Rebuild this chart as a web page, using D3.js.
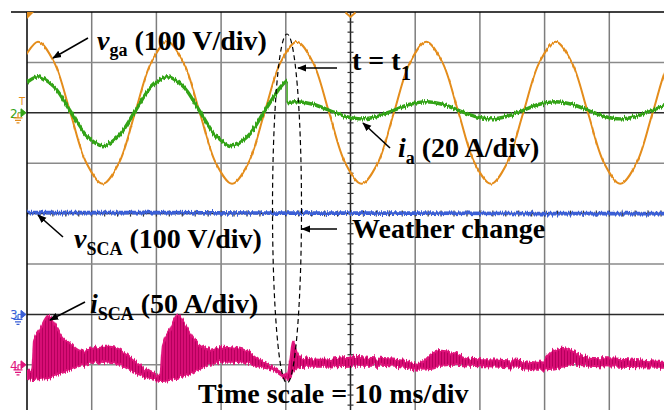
<!DOCTYPE html>
<html>
<head>
<meta charset="utf-8">
<script src="https://cdn.jsdelivr.net/npm/d3@7/dist/d3.min.js"></script>
<style>
  body { margin: 0; background: #fff; }
  svg { display: block; }
</style>
</head>
<body>
<svg id="scope" width="664" height="410"></svg>
<script>
// ---- acquisition record (time in ms, 10 ms/div, 10 divisions) ----
const sampleTimes = [-0.8, 1.7, 4.2, 6.7, 9.2, 11.7, 14.2, 16.7, 19.2, 21.7, 24.2, 26.7,
  29.2, 31.7, 34.2, 36.7, 39.2, 41.7, 44.2, 46.7, 49.2, 51.7, 54.2, 56.7, 59.2, 61.7,
  64.2, 66.7, 69.2, 71.7, 74.2, 76.7, 79.2, 81.7, 84.2, 86.7, 89.2, 91.7, 94.2, 96.7,
  99.2, 101.7];

// CH1 grid voltage v_ga (V)
const vgaVolts = [100, 141, 100, 0, -100, -141, -100, 0, 100, 141, 100, 0, -100, -141,
  -100, 0, 100, 141, 100, 0, -100, -141, -100, 0, 100, 141, 100, 0, -100, -141, -100,
  0, 100, 141, 100, 0, -100, -141, -100, 0, 100, 141];

// CH2 phase current i_a (A): before and after the weather change
const iaBefore = [10.3, 14.3, 10.3, 0.6, -9.1, -13.1, -9.1, 0.6, 10.3, 14.3, 10.3, 0.6,
  -9.1, -13.1, -9.1, 0.6, 10.3];                    // sampleTimes[0..16]
const iaAfter = [4.4, 3.4, 1.0, -1.4, -2.4, -1.4, 1.0, 3.4, 4.4, 3.4, 1.0, -1.4, -2.4,
  -1.4, 1.0, 3.4, 4.4, 3.4, 1.0, -1.4, -2.4, -1.4, 1.0, 3.4, 4.4]; // sampleTimes[17..41]
const changeTime = 40.2;
const iaAtChange = [12.8, 4.0];                    // just before / just after t1

// CH3 SCA voltage v_SCA (V)
const vscaTimes = [0, 20, 40, 60, 80, 100];
const vscaVolts = [202, 202, 201, 201, 200, 200];

// CH4 SCA current i_SCA (A): ripple band upper / lower envelope
const iscaTimes = [0.0, 0.8, 1.1, 2.0, 3.3, 4.3, 5.4, 6.7, 8.2, 9.7, 11.3, 12.8, 14.4,
  15.9, 17.5, 19.0, 20.6, 21.0, 22.1, 23.3, 24.4, 25.5, 26.7, 28.3, 30.1, 32.2, 34.2,
  36.0, 37.9, 39.4, 40.2, 40.7, 41.1, 41.7, 42.5, 45.3, 49.9, 54.6, 58.4, 60.7, 62.6,
  64.1, 66.2, 68.5, 73.1, 77.7, 79.3, 81.1, 82.7, 84.7, 87.0, 91.7, 98.5, 100];
const iscaUpper = [-6, -6, 25, 35, 49, 40, 28, 21, 14, 15, 18, 18, 15, 8, 0, -7, -10,
  20, 35, 50, 40, 29, 19, 15, 18, 17, 13, 5, -2, -8, -11, 5, 23, 13, 7, 5, 8, 6, 4, 1,
  11, 14, 11, 6, 5, 3, 2, 13, 17, 12, 7, 6, 3, 3];
const iscaLower = [-14, -15, -15, -14, -13, -11, -8, -5, -1, 1, 3, 2, 0, -5, -10, -14,
  -16, -16, -15, -13, -11, -8, -4, 0, 3, 3, 1, -2, -5, -11, -15, -13, -7, -3, -2, -2,
  -1, -1, -3, -5, -4, -1, 0, -1, -2, -4, -5, -4, -2, 0, -1, -2, -3, -3];

// channel settings: ground position (div from centre) and sensitivity
const channels = {
  vga:  { offset: 2,  perDiv: 100, color: "#e48c1a" },
  ia:   { offset: 2,  perDiv: 20,  color: "#33a315" },
  vsca: { offset: -2, perDiv: 100, color: "#3a5fd6" },
  isca: { offset: -3, perDiv: 50,  color: "#e0157c" }
};

const svg = d3.select("#scope");
const plotLeft = 27, plotTop = 12;
const x = d3.scaleLinear().domain([0, 100]).range([plotLeft, 674]);
const yDiv = d3.scaleLinear().domain([-4, 4]).range([415.2, plotTop]);
const yOf = ch => v => yDiv(ch.offset + v / ch.perDiv);

// ---- defs: clip, noise filters, ripple pattern, arrow head ----
const defs = svg.append("defs");
defs.append("clipPath").attr("id", "screen")
  .append("rect").attr("x", plotLeft).attr("y", plotTop)
  .attr("width", 664 - plotLeft).attr("height", 410 - plotTop);

function jitter(id, freq, scale, seed) {
  const f = defs.append("filter").attr("id", id)
    .attr("filterUnits", "userSpaceOnUse")
    .attr("x", 0).attr("y", 0).attr("width", 664).attr("height", 410);
  f.append("feTurbulence").attr("type", "fractalNoise")
    .attr("baseFrequency", freq).attr("numOctaves", 2).attr("seed", seed).attr("result", "n");
  f.append("feColorMatrix").attr("in", "n").attr("type", "matrix")
    .attr("values", "0 0 0 0 0.5  0 1 0 0 0  0 0 0 0 0  0 0 0 0 1").attr("result", "m");
  f.append("feDisplacementMap").attr("in", "SourceGraphic").attr("in2", "m")
    .attr("scale", scale).attr("xChannelSelector", "R").attr("yChannelSelector", "G");
}
jitter("fuzzOrange", "0.9 0.01", 3, 2);
jitter("fuzzGreen", "0.9 0.01", 6, 5);
jitter("fuzzBlue", "0.8 0.01", 6, 7);
jitter("fuzzPink", "0.7 0.01", 8, 11);

const pat = defs.append("pattern").attr("id", "ripple")
  .attr("patternUnits", "userSpaceOnUse").attr("width", 3).attr("height", 20);
pat.append("rect").attr("width", 3).attr("height", 20).attr("fill", "#d80b74");
pat.append("rect").attr("width", 1).attr("height", 20).attr("fill", "#b4005c");

defs.append("marker").attr("id", "head")
  .attr("viewBox", "0 0 10 10").attr("refX", 9).attr("refY", 5)
  .attr("markerWidth", 9).attr("markerHeight", 9).attr("markerUnits", "userSpaceOnUse")
  .attr("orient", "auto")
  .append("path").attr("d", "M0,1 L10,5 L0,9 Z").attr("fill", "#000");

// ---- graticule ----
const grid = svg.append("g").attr("clip-path", "url(#screen)");
const vTicks = d3.range(1, 11).map(i => i * 10);
const hTicks = d3.range(-3, 4);
const darkRows = [2, -2];
grid.selectAll("line.v").data(vTicks).join("line")
  .attr("x1", d => x(d)).attr("x2", d => x(d)).attr("y1", plotTop).attr("y2", 410)
  .attr("stroke", d => d === 50 ? "#222" : "#7d7d7d").attr("stroke-width", 1.5);
grid.selectAll("line.h").data(hTicks).join("line")
  .attr("y1", d => yDiv(d)).attr("y2", d => yDiv(d)).attr("x1", plotLeft).attr("x2", 664)
  .attr("stroke", d => (d === 0 || darkRows.includes(d)) ? "#2a2a2a" : "#8a8a8a")
  .attr("stroke-width", 1.5);

// minor ticks along the centre axes
const minorY = d3.range(-4, 4.01, 0.2);
grid.selectAll("line.my").data(minorY).join("line")
  .attr("x1", x(50) - 3).attr("x2", x(50) + 3)
  .attr("y1", d => yDiv(d)).attr("y2", d => yDiv(d))
  .attr("stroke", "#333").attr("stroke-width", 1.2);
const minorX = d3.range(0, 100.01, 2);
grid.selectAll("line.mx").data(minorX).join("line")
  .attr("y1", yDiv(0) - 3).attr("y2", yDiv(0) + 3)
  .attr("x1", d => x(d)).attr("x2", d => x(d))
  .attr("stroke", "#333").attr("stroke-width", 1.2);

// frame
svg.append("line").attr("x1", 11).attr("x2", 664).attr("y1", plotTop).attr("y2", plotTop)
  .attr("stroke", "#000").attr("stroke-width", 1.5);
svg.append("line").attr("x1", plotLeft).attr("x2", plotLeft).attr("y1", plotTop).attr("y2", 410)
  .attr("stroke", "#000").attr("stroke-width", 1.5);

// ---- traces ----
const traces = svg.append("g").attr("clip-path", "url(#screen)");
const smooth = d3.curveCatmullRom.alpha(0.5);

// CH1 v_ga
const yV = yOf(channels.vga);
traces.append("path")
  .attr("d", d3.line().curve(smooth).x((d, i) => x(sampleTimes[i])).y(d => yV(d))(vgaVolts))
  .attr("fill", "none").attr("stroke", channels.vga.color).attr("stroke-width", 2)
  .attr("filter", "url(#fuzzOrange)");

// CH2 i_a
const yI = yOf(channels.ia);
const before = iaBefore.map((v, i) => [sampleTimes[i], v]).concat([[changeTime, iaAtChange[0]]]);
const after = [[changeTime, iaAtChange[1]]].concat(iaAfter.map((v, i) => [sampleTimes[i + 17], v]));
const iaLine = d3.line().curve(smooth).x(d => x(d[0])).y(d => yI(d[1]));
const gIa = traces.append("g").attr("filter", "url(#fuzzGreen)");
[before, after].forEach(seg => gIa.append("path").attr("d", iaLine(seg))
  .attr("fill", "none").attr("stroke", channels.ia.color).attr("stroke-width", 3.4));
gIa.append("line").attr("x1", x(changeTime)).attr("x2", x(changeTime))
  .attr("y1", yI(iaAtChange[0])).attr("y2", yI(iaAtChange[1]))
  .attr("stroke", channels.ia.color).attr("stroke-width", 1.4);

// CH3 v_SCA
const yS = yOf(channels.vsca);
traces.append("path")
  .attr("d", d3.line().x((d, i) => x(vscaTimes[i])).y(d => yS(d))(vscaVolts))
  .attr("fill", "none").attr("stroke", channels.vsca.color).attr("stroke-width", 3.6)
  .attr("filter", "url(#fuzzBlue)");

// CH4 i_SCA ripple band
const yC = yOf(channels.isca);
traces.append("path")
  .attr("d", d3.area().curve(d3.curveMonotoneX)
    .x((d, i) => x(iscaTimes[i]))
    .y0((d, i) => yC(iscaLower[i]))
    .y1(d => yC(d))(iscaUpper))
  .attr("fill", "url(#ripple)").attr("stroke", channels.isca.color).attr("stroke-width", 2)
  .attr("filter", "url(#fuzzPink)");

// ---- annotations ----
const ann = svg.append("g");
ann.append("ellipse").attr("cx", 287).attr("cy", 208.5).attr("rx", 14.5).attr("ry", 174.5)
  .attr("fill", "none").attr("stroke", "#000").attr("stroke-width", 1.2)
  .attr("stroke-dasharray", "5,3.5");

const arrows = [
  [88, 38, 53, 58], [337, 68, 298, 68], [390, 148, 363, 123],
  [63, 237, 38, 215], [85, 302, 50, 320], [337, 229, 302, 229]
];
ann.selectAll("line.arrow").data(arrows).join("line")
  .attr("x1", d => d[0]).attr("y1", d => d[1]).attr("x2", d => d[2]).attr("y2", d => d[3])
  .attr("stroke", "#000").attr("stroke-width", 1.6).attr("marker-end", "url(#head)");

const serif = "'Liberation Serif', 'Times New Roman', serif";
function label(px, py, sym, sub, rest, subDy, subSize) {
  const t = ann.append("text").attr("x", px).attr("y", py)
    .attr("font-family", serif).attr("font-weight", "bold").attr("font-size", 28)
    .attr("fill", "#000");
  if (sym) t.append("tspan").attr("font-style", "italic").text(sym);
  if (sub) t.append("tspan").attr("font-size", subSize).attr("dy", subDy).text(sub);
  t.append("tspan").attr("dy", sub ? -subDy : 0).text(rest);
  return t;
}
label(97, 50, "v", "ga", "\u00a0(100 V/div)", 6, 18);
label(398, 157, "i", "a", "\u00a0(20 A/div)", 7, 18);
label(74, 248, "v", "SCA", "\u00a0(100 V/div)", 7, 18);
label(90, 313, "i", "SCA", "\u00a0(50 A/div)", 7, 18);
label(352, 70, null, null, "t = t");
ann.append("text").attr("x", 401).attr("y", 80)
  .attr("font-family", serif).attr("font-weight", "bold").attr("font-size", 20).text("1");
label(352, 238, null, null, "Weather change");
label(198, 403, null, null, "Time scale = 10 ms/div");

// ---- channel markers ----
const mk = svg.append("g");
mk.append("path").attr("d", `M${plotLeft},${plotTop} L${plotLeft + 7},${plotTop} L${plotLeft},${plotTop + 7} Z`)
  .attr("fill", channels.vga.color);
mk.append("path").attr("d", `M${x(50) - 5},${plotTop + 0.5} L${x(50)},${plotTop + 5} L${x(50) + 5},${plotTop + 0.5}`)
  .attr("fill", "none").attr("stroke", channels.vga.color).attr("stroke-width", 1.8);

function groundMarker(label, chKey, groundColor) {
  const c = channels[chKey].color;
  const gy = yDiv(channels[chKey].offset);
  mk.append("text").attr("x", 10).attr("y", gy + 5).attr("font-family", "DejaVu Sans")
    .attr("font-size", 12).attr("fill", c).text(label);
  mk.append("path").attr("d", `M18,${gy} L21,${gy} M21,${gy - 4} L26,${gy} L21,${gy + 4} Z`)
    .attr("fill", c).attr("stroke", c).attr("stroke-width", 1);
  mk.append("path")
    .attr("d", `M18,${gy} L18,${gy + 5} M13.5,${gy + 5} L22.5,${gy + 5} M15,${gy + 7.5} L21,${gy + 7.5} M16.5,${gy + 10} L19.5,${gy + 10}`)
    .attr("fill", "none").attr("stroke", groundColor).attr("stroke-width", 1.2);
}
groundMarker("2", "ia", channels.vga.color);
groundMarker("3", "vsca", channels.vsca.color);
groundMarker("4", "isca", channels.isca.color);
mk.append("text").attr("x", 19).attr("y", yDiv(2) - 8).attr("font-family", "DejaVu Sans")
  .attr("font-size", 10).attr("fill", channels.vga.color).text("T");
</script>
</body>
</html>
